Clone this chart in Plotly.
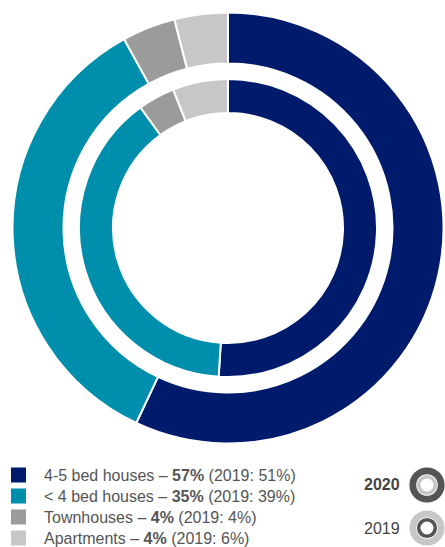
import plotly.graph_objects as go

W, H = 445, 547

categories = ["4-5 bed houses", "< 4 bed houses", "Townhouses", "Apartments"]
values_2020 = [57, 35, 4, 4]
values_2019 = [51, 39, 4, 6]
colors = ["#001B6C", "#008EAD", "#9B9B9B", "#C7C7C7"]
years = ["2020", "2019"]

def px_x(p):
    return p / W

def px_y(p):
    return 1 - p / H

cx, cy = 228, 228
R_out, R_out_hole = 215.5, 164.5
R_in, R_in_hole = 149, 115

fig = go.Figure()
fig.add_trace(go.Pie(
    labels=categories, values=values_2020, sort=False, direction="clockwise", rotation=0,
    hole=R_out_hole / R_out, textinfo="none", hoverinfo="label+percent",
    marker=dict(colors=colors, line=dict(color="white", width=2)),
    domain=dict(x=[px_x(cx - R_out), px_x(cx + R_out)], y=[px_y(cy + R_out), px_y(cy - R_out)]),
    showlegend=False, name="2020",
))
fig.add_trace(go.Pie(
    labels=categories, values=values_2019, sort=False, direction="clockwise", rotation=0,
    hole=R_in_hole / R_in, textinfo="none", hoverinfo="label+percent",
    marker=dict(colors=colors, line=dict(color="white", width=2)),
    domain=dict(x=[px_x(cx - R_in), px_x(cx + R_in)], y=[px_y(cy + R_in), px_y(cy - R_in)]),
    showlegend=False, name="2019",
))

shapes = []
annotations = []
font = "Liberation Sans, Arial, Helvetica, sans-serif"
text_color = "#555555"

row_y = [475, 496, 517, 538]
sq = 15
for i, cat in enumerate(categories):
    yc = row_y[i]
    shapes.append(dict(type="rect", xref="paper", yref="paper",
                       x0=px_x(11), x1=px_x(11 + sq), y0=px_y(yc + sq / 2), y1=px_y(yc - sq / 2),
                       fillcolor=colors[i], line=dict(width=0)))
    txt = f"{cat} – <b>{values_2020[i]}%</b> ({years[1]}: {values_2019[i]}%)"
    annotations.append(dict(text=txt, xref="paper", yref="paper", x=px_x(42), y=px_y(yc),
                            xanchor="left", yanchor="middle", showarrow=False,
                            font=dict(family=font, size=16, color=text_color)))

# year key icons
dark_ring = "#555555"
light_ring = "#C7C7C7"
icon_x = 427
icon_y = [485, 528]
ring_specs = [(dark_ring, light_ring), (light_ring, dark_ring)]
for j, yr in enumerate(years):
    yc = icon_y[j]
    outer_c, inner_c = ring_specs[j]
    for (rmid, lw, col) in [(14.2, 6.8, outer_c), (8.3, 3.6, inner_c)]:
        shapes.append(dict(type="circle", xref="paper", yref="paper",
                           x0=px_x(icon_x - rmid), x1=px_x(icon_x + rmid),
                           y0=px_y(yc + rmid), y1=px_y(yc - rmid),
                           line=dict(color=col, width=lw), fillcolor="rgba(0,0,0,0)"))
    label = f"<b>{yr}</b>" if j == 0 else yr
    annotations.append(dict(text=label, xref="paper", yref="paper", x=px_x(402), y=px_y(yc),
                            xanchor="right", yanchor="middle", showarrow=False,
                            font=dict(family=font, size=16, color="#444444")))

fig.update_layout(
    width=W, height=H, margin=dict(l=0, r=0, t=0, b=0),
    paper_bgcolor="white", plot_bgcolor="white",
    shapes=shapes, annotations=annotations, showlegend=False,
)

fig.write_html("out.html")
